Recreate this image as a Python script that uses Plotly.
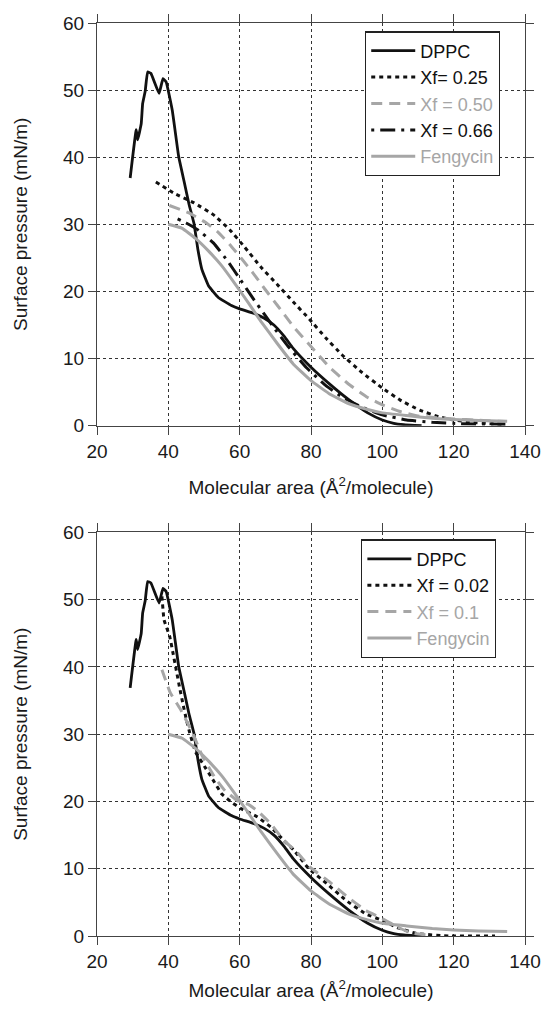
import plotly.graph_objects as go

# ---------------- data ----------------
dppc_x = [29.3, 31.0, 31.4, 32.4, 32.8, 33.5, 34.2, 35.1, 37.4, 38.5, 39.4, 41.1, 42.9, 44.5,
          45.8, 47.2, 48.3, 49.4, 51.3, 54.0, 57.7, 60.0, 64.1, 66.9, 69.6, 72.5, 75.0, 80.0,
          85.0, 90.5, 95.9, 100.0, 103.2, 106.0, 109.0, 111.0]
dppc_y = [36.9, 44.1, 42.6, 45.0, 48.0, 49.8, 52.7, 52.5, 49.5, 51.7, 51.2, 47.0, 40.1, 36.2,
          33.0, 30.1, 26.2, 23.3, 20.8, 19.1, 17.9, 17.4, 16.7, 16.0, 15.0, 13.3, 11.5, 8.7,
          6.3, 3.9, 1.9, 0.85, 0.35, 0.15, 0.05, 0.0]

xf025_x = [36.5, 41.7, 47.2, 52.7, 57.2, 61.4, 66.0, 70.6, 75.1, 79.5, 84.1, 88.6, 94.1,
           100.0, 105.0, 110.5, 115.9, 120.0, 125.0, 130.0, 134.5]
xf025_y = [36.3, 34.6, 33.2, 31.4, 29.2, 26.6, 23.6, 21.0, 18.4, 15.9, 13.1, 10.6, 8.0,
           5.6, 3.8, 2.3, 1.3, 0.85, 0.5, 0.3, 0.2]

xf050_x = [40.3, 45.8, 50.4, 54.0, 57.2, 60.5, 63.8, 67.0, 70.6, 75.0, 80.0, 85.0, 90.5, 95.9,
           100.0, 105.0, 110.5, 120.0, 127.0, 134.5]
xf050_y = [32.8, 31.7, 30.3, 28.8, 27.0, 24.9, 22.7, 20.4, 17.9, 14.8, 11.8, 8.8, 6.2, 4.2,
           3.1, 2.1, 1.4, 1.0, 0.8, 0.6]

xf066_x = [42.6, 45.0, 48.5, 52.7, 56.8, 60.0, 63.7, 66.9, 69.6, 73.6, 78.6, 84.1, 88.6, 94.1,
           100.0, 106.8, 114.0, 122.0, 134.5]
xf066_y = [30.8, 30.2, 29.1, 27.2, 24.4, 21.9, 19.0, 16.6, 14.6, 11.8, 8.7, 6.0, 4.3, 2.8,
           1.6, 0.85, 0.5, 0.3, 0.2]

feng_x = [40.0, 43.9, 47.6, 51.3, 55.0, 58.6, 62.3, 66.0, 70.6, 75.0, 80.0, 85.0, 90.5, 95.9,
          100.0, 106.8, 114.0, 120.0, 127.0, 135.0]
feng_y = [30.0, 29.4, 27.9, 26.0, 23.8, 21.2, 18.4, 15.5, 12.2, 9.2, 6.7, 4.8, 3.3, 2.4,
          1.9, 1.5, 1.1, 0.9, 0.75, 0.65]

xf002_x = [38.2, 38.8, 40.4, 41.3, 42.2, 43.1, 44.1, 45.0, 46.0, 47.6, 50.4, 52.2, 55.0, 57.7,
           60.5, 65.0, 68.7, 72.4, 75.1, 79.4, 84.4, 89.8, 95.3, 100.0, 104.4, 109.8, 118.9, 131.6]
xf002_y = [50.5, 47.0, 44.5, 42.1, 39.6, 37.1, 34.5, 32.3, 30.2, 27.4, 25.0, 23.5, 21.1, 19.9,
           18.9, 17.7, 16.2, 14.2, 12.8, 10.0, 7.8, 5.3, 3.3, 2.3, 1.2, 0.35, 0.0, 0.0]

xf01_x = [38.2, 40.6, 43.4, 46.7, 49.4, 53.1, 55.9, 59.5, 62.3, 65.0, 68.7, 72.4, 76.0, 79.8,
          85.3, 89.8, 95.3, 100.0, 104.4, 108.0, 113.5]
xf01_y = [39.6, 36.1, 33.7, 30.3, 26.9, 23.5, 21.6, 20.1, 19.6, 18.6, 16.7, 14.2, 12.5, 10.2,
          8.0, 6.0, 3.8, 2.6, 1.3, 0.45, 0.1]

x_ticks = [20, 40, 60, 80, 100, 120, 140]
y_ticks = [0, 10, 20, 30, 40, 50, 60]

# ---------------- styles ----------------
BLACK = "#111111"
GRAY = "#a6a6a6"
FONT = "Liberation Sans, Arial, Helvetica, sans-serif"
TXT = "#1a1a1a"


def gray(t):
    return "<span style='color:%s'>%s</span>" % (GRAY, t)


fig = go.Figure()

top = [
    (dppc_x, dppc_y, "DPPC", BLACK, "solid", 2.8),
    (xf025_x, xf025_y, "Xf= 0.25", BLACK, "4px,4px", 3.0),
    (xf050_x, xf050_y, gray("Xf = 0.50"), GRAY, "11px,7px", 3.0),
    (xf066_x, xf066_y, "Xf = 0.66", BLACK, "3px,6px,15px,6px", 3.0),
    (feng_x, feng_y, gray("Fengycin"), GRAY, "solid", 3.0),
]
for xs, ys, nm, col, dash, w in top:
    fig.add_trace(go.Scatter(x=xs, y=ys, name=nm, mode="lines",
                             line=dict(color=col, dash=dash, width=w, shape="spline", smoothing=0.3),
                             xaxis="x", yaxis="y", legend="legend"))

bottom = [
    (dppc_x, dppc_y, "DPPC", BLACK, "solid", 2.8),
    (xf002_x, xf002_y, "Xf = 0.02", BLACK, "4px,4px", 3.0),
    (xf01_x, xf01_y, gray("Xf = 0.1"), GRAY, "11px,7px", 3.0),
    (feng_x, feng_y, gray("Fengycin"), GRAY, "solid", 3.0),
]
for xs, ys, nm, col, dash, w in bottom:
    fig.add_trace(go.Scatter(x=xs, y=ys, name=nm, mode="lines",
                             line=dict(color=col, dash=dash, width=w, shape="spline", smoothing=0.3),
                             xaxis="x2", yaxis="y2", legend="legend2"))

axis_common = dict(
    showline=True, linecolor="#444444", linewidth=1.3, mirror="ticks",
    ticks="outside", ticklen=8, tickwidth=1.3, tickcolor="#444444",
    showgrid=True, gridcolor="#333333", griddash="dot", gridwidth=1,
    zeroline=False, tickfont=dict(size=19, color=TXT, family=FONT),
)
xtitle = dict(text="Molecular area (Å<sup>2</sup>/molecule)", font=dict(size=19, color=TXT, family=FONT))
ytitle = dict(text="Surface pressure (mN/m)", font=dict(size=19, color=TXT, family=FONT))

legend_common = dict(xanchor="left", yanchor="top", bgcolor="white",
                     bordercolor="#222222", borderwidth=1.3,
                     font=dict(size=18, color="#111111", family=FONT),
                     itemwidth=44, tracegroupgap=0)

fig.update_layout(
    width=553, height=1009,
    margin=dict(l=97, r=20, t=23, b=70),
    paper_bgcolor="white", plot_bgcolor="white",
    font=dict(family=FONT, color=TXT),
    xaxis=dict(domain=[0, 1], anchor="y", range=[20, 140], tickvals=x_ticks,
               title=dict(xtitle, standoff=20), **axis_common),
    yaxis=dict(domain=[0.559, 1], anchor="x", range=[0, 60], tickvals=y_ticks,
               title=dict(ytitle, standoff=30), **axis_common),
    xaxis2=dict(domain=[0, 1], anchor="y2", range=[20, 140], tickvals=x_ticks,
                title=dict(xtitle, standoff=12), **axis_common),
    yaxis2=dict(domain=[0, 0.442], anchor="x2", range=[0, 60], tickvals=y_ticks,
                title=dict(ytitle, standoff=30), **axis_common),
    legend=dict(x=0.626, y=0.991, **legend_common),
    legend2=dict(x=0.617, y=0.4345, **legend_common),
    showlegend=True,
)

fig.write_html("out.html", config={"displayModeBar": False},
               post_script="document.body.style.margin='0';")
